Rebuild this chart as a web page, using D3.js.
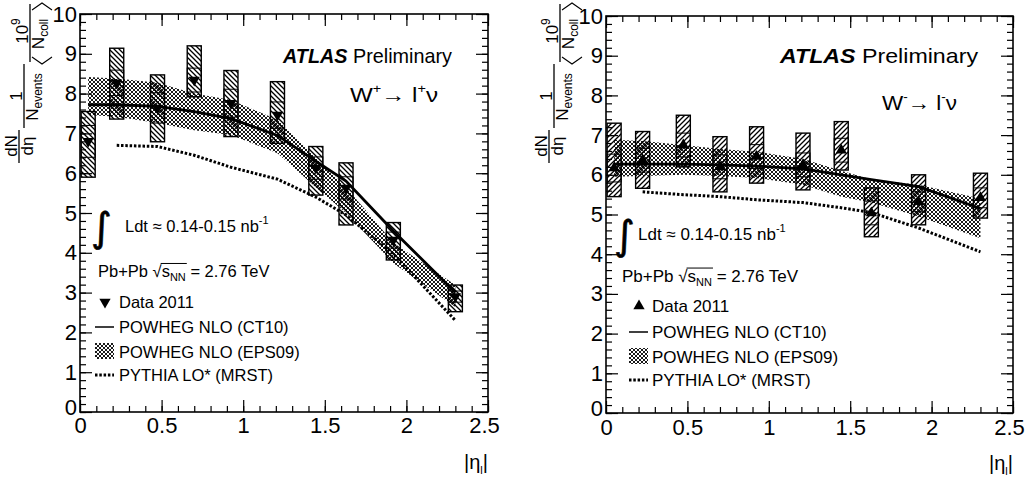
<!DOCTYPE html>
<html>
<head>
<meta charset="utf-8">
<script src="https://cdn.jsdelivr.net/npm/d3@7"></script>
<style>
body { margin: 0; background: #fff; }
svg { font-family: "Liberation Sans", Arial, sans-serif; }
</style>
</head>
<body>
<svg width="1027" height="484"></svg>
<script>
// lepton |eta| bin centres
var etaBins = [0.05, 0.225, 0.475, 0.7, 0.925, 1.21, 1.445, 1.63, 1.92, 2.3];
var pythiaEta = [0.225, 0.475, 0.7, 0.925, 1.21, 1.445, 1.63, 1.92, 2.3];

// W+ -> l+ nu
var wPlusData   = [6.80, 8.27, 7.64, 8.34, 7.76, 7.46, 6.13, 5.63, 4.32, 2.90];
var wPlusStat   = [0.40, 0.32, 0.38, 0.30, 0.35, 0.33, 0.28, 0.28, 0.20, 0.14];
var wPlusSysLo  = [5.90, 7.36, 6.79, 7.92, 6.92, 6.75, 5.45, 4.70, 3.82, 2.52];
var wPlusSysHi  = [7.55, 9.14, 8.47, 9.20, 8.58, 8.30, 6.67, 6.26, 4.76, 3.19];
var wPlusCT10   = [7.72, 7.72, 7.68, 7.55, 7.37, 6.95, 6.30, 5.80, 4.55, 3.00];
var wPlusEpsHi  = [8.42, 8.38, 8.27, 8.00, 7.84, 7.34, 6.40, 5.65, 4.25, 3.19];
var wPlusEpsLo  = [7.46, 7.42, 7.26, 7.08, 6.96, 6.50, 5.65, 5.00, 3.74, 2.64];
var wPlusPythia = [6.70, 6.67, 6.45, 6.15, 5.85, 5.40, 4.95, 3.97, 2.30];

// W- -> l- nu
var wMinusData   = [6.17, 6.37, 6.75, 6.20, 6.46, 6.25, 6.62, 5.04, 5.32, 5.42];
var wMinusStat   = [0.35, 0.30, 0.30, 0.30, 0.30, 0.30, 0.30, 0.30, 0.25, 0.25];
var wMinusSysLo  = [5.45, 5.66, 6.20, 5.57, 5.79, 5.62, 6.12, 4.44, 4.74, 4.91];
var wMinusSysHi  = [7.30, 7.09, 7.50, 6.96, 7.21, 7.05, 7.34, 5.67, 6.00, 6.04];
var wMinusCT10   = [6.27, 6.27, 6.27, 6.25, 6.22, 6.15, 6.00, 5.88, 5.70, 5.15];
var wMinusEpsHi  = [6.88, 6.85, 6.75, 6.65, 6.58, 6.40, 6.10, 5.88, 5.75, 5.40];
var wMinusEpsLo  = [5.95, 5.97, 6.00, 5.97, 5.92, 5.75, 5.45, 5.30, 4.95, 4.40];
var wMinusPythia = [5.57, 5.50, 5.45, 5.37, 5.30, 5.17, 5.05, 4.66, 4.06];

var xTickLabels = ["0", "0.5", "1", "1.5", "2", "2.5"];
var yTickLabels = ["0", "1", "2", "3", "4", "5", "6", "7", "8", "9", "10"];
var legendLabels = ["Data 2011", "POWHEG NLO (CT10)", "POWHEG NLO (EPS09)", "PYTHIA LO* (MRST)"];

var svg = d3.select("svg");
var defs = svg.append("defs");

function hatch(id, d) {
    defs.append("pattern")
        .attr("id", id)
        .attr("patternUnits", "userSpaceOnUse")
        .attr("width", 5).attr("height", 5)
        .append("path")
        .attr("d", d)
        .attr("stroke", "#000")
        .attr("stroke-width", 1.3);
}
hatch("hatchDown", "M-1,-1L6,6M-1,4L1,6M4,-1L6,1");
hatch("hatchUp", "M-1,6L6,-1M-1,1L1,-1M4,6L6,4");

var bandPat = defs.append("pattern")
    .attr("id", "band")
    .attr("patternUnits", "userSpaceOnUse")
    .attr("width", 4).attr("height", 4);
bandPat.append("rect").attr("width", 4).attr("height", 4).attr("fill", "#fff");
bandPat.append("path")
    .attr("d", "M0,0L4,4M4,0L0,4")
    .attr("stroke", "#000")
    .attr("stroke-width", 0.9);

var boxHalf = 0.043;

// y title: three stacked fractions, rotated
function drawYLabel(bx) {
    var g = svg.append("g")
        .attr("transform", "translate(" + bx + ",0) rotate(-90)")
        .attr("font-size", 17);
    function bar(a, b, off) {
        g.append("line").attr("x1", a).attr("x2", b)
            .attr("y1", off).attr("y2", off)
            .attr("stroke", "#000").attr("stroke-width", 1.3);
    }
    // dN/deta
    bar(-163, -130, 0);
    g.append("text").attr("x", -146).attr("y", -2.5).attr("text-anchor", "middle").text("dN");
    g.append("text").attr("x", -146).attr("y", 14).attr("text-anchor", "middle").text("dη");
    // 1/N_events
    bar(-128, -64, 5);
    g.append("text").attr("x", -96).attr("y", 2.5).attr("text-anchor", "middle").text("1");
    var t2 = g.append("text").attr("x", -97).attr("y", 19).attr("text-anchor", "middle");
    t2.append("tspan").text("N");
    t2.append("tspan").attr("font-size", 12).attr("dy", 4).text("events");
    // 10^9/<N_coll>
    bar(-62, -4, 11);
    var t3 = g.append("text").attr("x", -31).attr("y", 8.5).attr("text-anchor", "middle");
    t3.append("tspan").text("10");
    t3.append("tspan").attr("font-size", 12).attr("dy", -8).text("9");
    var t4 = g.append("text").attr("x", -34).attr("y", 25).attr("text-anchor", "middle");
    t4.append("tspan").text("N");
    t4.append("tspan").attr("font-size", 12).attr("dy", 4).text("coll");
    g.append("path").attr("d", "M-57,13L-64,23L-57,33")
        .attr("fill", "none").attr("stroke", "#000").attr("stroke-width", 1.1);
    g.append("path").attr("d", "M-10,13L-3,23L-10,33")
        .attr("fill", "none").attr("stroke", "#000").attr("stroke-width", 1.1);
}

function drawPanel(p) {
    var x = d3.scaleLinear().domain([0, 2.5]).range([p.left, p.right]);
    var y = d3.scaleLinear().domain([0, 10]).range([p.bottom, p.top]);
    var g = svg.append("g");

    // EPS09 band
    var area = d3.area()
        .x(function (d, i) { return x(etaBins[i]); })
        .y0(function (d, i) { return y(p.epsLo[i]); })
        .y1(function (d) { return y(d); });
    g.append("path").datum(p.epsHi)
        .attr("d", area)
        .attr("fill", "url(#band)");

    // systematic boxes
    g.selectAll(".sys").data(p.data).enter().append("rect")
        .attr("class", "sys")
        .attr("x", function (d, i) { return x(etaBins[i] - boxHalf); })
        .attr("y", function (d, i) { return y(p.sysHi[i]); })
        .attr("width", function (d, i) { return x(etaBins[i] + boxHalf) - x(etaBins[i] - boxHalf); })
        .attr("height", function (d, i) { return y(p.sysLo[i]) - y(p.sysHi[i]); })
        .attr("fill", "url(#" + p.hatch + ")")
        .attr("stroke", "#000")
        .attr("stroke-width", 1.4);

    // statistical boxes
    g.selectAll(".stat").data(p.data).enter().append("rect")
        .attr("class", "stat")
        .attr("x", function (d, i) { return x(etaBins[i] - boxHalf); })
        .attr("y", function (d, i) { return y(d + p.stat[i]); })
        .attr("width", function (d, i) { return x(etaBins[i] + boxHalf) - x(etaBins[i] - boxHalf); })
        .attr("height", function (d, i) { return y(d - p.stat[i]) - y(d + p.stat[i]); })
        .attr("fill", "none")
        .attr("stroke", "#000")
        .attr("stroke-width", 1);

    // CT10 line
    var line = d3.line()
        .x(function (d, i) { return x(etaBins[i]); })
        .y(function (d) { return y(d); });
    g.append("path").datum(p.ct10)
        .attr("d", line)
        .attr("fill", "none")
        .attr("stroke", "#000")
        .attr("stroke-width", 2.8);

    // PYTHIA line
    var pline = d3.line()
        .x(function (d, i) { return x(pythiaEta[i]); })
        .y(function (d) { return y(d); });
    g.append("path").datum(p.pythia)
        .attr("d", pline)
        .attr("fill", "none")
        .attr("stroke", "#000")
        .attr("stroke-width", 3)
        .attr("stroke-dasharray", "2.5,1.8");

    // data markers
    var sym = d3.symbol().type(d3.symbolTriangle).size(55);
    g.selectAll(".pt").data(p.data).enter().append("path")
        .attr("class", "pt")
        .attr("d", sym)
        .attr("transform", function (d, i) {
            return "translate(" + x(etaBins[i]) + "," + y(d) + ")" + (p.down ? " rotate(180)" : "");
        })
        .attr("fill", "#000");

    // axes
    var xMajor = xTickLabels.map(Number);
    var yMajor = yTickLabels.map(Number);
    var xMinor = d3.range(0, 2.501, 0.1);
    var yMinor = d3.range(0, 10.001, 0.2);

    function ax(gen, tr, vals, size, fmt, pad) {
        var a = g.append("g").attr("transform", tr)
            .call(gen.tickValues(vals).tickSizeInner(size).tickSizeOuter(0).tickPadding(pad || 0)
                .tickFormat(fmt || function () { return ""; }));
        a.select(".domain").remove();
        a.selectAll("line").attr("stroke-width", 1.2);
        a.attr("font-family", null).attr("font-size", 22);
        return a;
    }
    ax(d3.axisBottom(x), "translate(0," + p.bottom + ")", xMinor, -6);
    var xl = ax(d3.axisBottom(x), "translate(0," + p.bottom + ")", xMajor, -12, function (d, i) { return xTickLabels[i]; }, p.pad);
    xl.selectAll("text").filter(function (d) { return d === 2.5; }).attr("dx", -4);
    ax(d3.axisTop(x), "translate(0," + p.top + ")", xMinor, -6);
    ax(d3.axisTop(x), "translate(0," + p.top + ")", xMajor, -12);
    ax(d3.axisLeft(y), "translate(" + p.left + ",0)", yMinor, -6);
    var yl = ax(d3.axisLeft(y), "translate(" + p.left + ",0)", yMajor, -12, function (d, i) { return yTickLabels[i]; }, 3);
    yl.selectAll("text").filter(function (d) { return d === 0; }).attr("dy", "0.1em");
    ax(d3.axisRight(y), "translate(" + p.right + ",0)", yMinor, -6);
    ax(d3.axisRight(y), "translate(" + p.right + ",0)", yMajor, -12);

    g.append("rect")
        .attr("x", p.left).attr("y", p.top)
        .attr("width", p.right - p.left).attr("height", p.bottom - p.top)
        .attr("fill", "none").attr("stroke", "#000").attr("stroke-width", 1.6);

    // x title |eta_l|
    var xt = g.append("text").attr("x", p.right).attr("y", p.bottom + 57)
        .attr("text-anchor", "end").attr("font-size", 20);
    xt.append("tspan").text("|η");
    xt.append("tspan").attr("font-size", 11).attr("dy", 5).text("l");
    xt.append("tspan").attr("dy", -5).text("|");

    // ATLAS Preliminary
    var at = g.append("text").attr("x", p.atlasX).attr("y", 63)
        .attr("font-size", 21)
        .attr("textLength", p.atlasW).attr("lengthAdjust", "spacingAndGlyphs");
    at.append("tspan").attr("font-weight", "bold").attr("font-style", "italic").text("ATLAS");
    at.append("tspan").text(" Preliminary");

    // process label
    var wl = g.append("text").attr("x", p.wX).attr("y", p.wY).attr("font-size", 20)
        .attr("textLength", p.wW).attr("lengthAdjust", "spacingAndGlyphs");
    wl.append("tspan").text("W");
    wl.append("tspan").attr("font-size", 12).attr("dy", -9).text(p.sign);
    wl.append("tspan").attr("dy", 9).text("→ l");
    wl.append("tspan").attr("font-size", 12).attr("dy", -9).text(p.sign);
    wl.append("tspan").attr("dy", 9).text("ν");

    // luminosity
    var fs = p.legFont;
    g.append("text").attr("x", p.intX).attr("y", p.ldtY + 9)
        .attr("font-size", 40).attr("font-family", "DejaVu Sans")
        .attr("stroke", "#000").attr("stroke-width", 0.6).text("∫");
    var lt = g.append("text").attr("x", p.ldtX).attr("y", p.ldtY).attr("font-size", fs);
    lt.append("tspan").text("Ldt ≈ 0.14-0.15 nb");
    lt.append("tspan").attr("font-size", 11).attr("dy", -8).text("-1");

    // collision system
    var cs = g.append("text").attr("x", p.pbX).attr("y", p.pbY).attr("font-size", fs);
    cs.append("tspan").text("Pb+Pb ");
    cs.append("tspan").text("√");
    cs.append("tspan").text("s");
    cs.append("tspan").attr("font-size", 11).attr("dy", 4).text("NN");
    cs.append("tspan").attr("dy", -4).text(" = 2.76 TeV");
    var node = cs.node();
    var s0 = node.getStartPositionOfChar(7).x, s1 = node.getEndPositionOfChar(9).x;
    g.append("line").attr("x1", s0 - 1).attr("x2", s1 + 1)
        .attr("y1", p.pbY - fs * 0.82).attr("y2", p.pbY - fs * 0.82)
        .attr("stroke", "#000").attr("stroke-width", 1);

    // legend
    var lx0 = p.legX, lx1 = p.legX + 19;
    g.append("path").attr("d", sym)
        .attr("transform", "translate(" + (lx0 + 10) + "," + (p.legY[0] - 6) + ")" + (p.down ? " rotate(180)" : ""))
        .attr("fill", "#000");
    g.append("line").attr("x1", lx0).attr("x2", lx1)
        .attr("y1", p.legY[1] - 6).attr("y2", p.legY[1] - 6)
        .attr("stroke", "#000").attr("stroke-width", 1.5);
    g.append("rect").attr("x", lx0).attr("y", p.legY[2] - 15)
        .attr("width", lx1 - lx0).attr("height", 16)
        .attr("fill", "url(#band)");
    g.append("line").attr("x1", lx0).attr("x2", lx1)
        .attr("y1", p.legY[3] - 6).attr("y2", p.legY[3] - 6)
        .attr("stroke", "#000").attr("stroke-width", 3)
        .attr("stroke-dasharray", "2.5,1.8");
    legendLabels.forEach(function (t, i) {
        g.append("text").attr("x", p.legTextX).attr("y", p.legY[i])
            .attr("font-size", fs).text(t);
    });
}

drawYLabel(19);
drawYLabel(549);

drawPanel({
    left: 80, right: 488, top: 14, bottom: 412, pad: 5,
    data: wPlusData, stat: wPlusStat, sysLo: wPlusSysLo, sysHi: wPlusSysHi,
    ct10: wPlusCT10, epsHi: wPlusEpsHi, epsLo: wPlusEpsLo, pythia: wPlusPythia,
    hatch: "hatchDown", down: true, sign: "+",
    atlasX: 283, atlasW: 169, wX: 350, wY: 102, wW: 88,
    legFont: 16.5, intX: 91, ldtX: 125, ldtY: 232, pbX: 98, pbY: 277,
    legX: 95, legTextX: 119, legY: [308, 333, 358, 381]
});

drawPanel({
    left: 606, right: 1013, top: 16, bottom: 413, pad: 6,
    data: wMinusData, stat: wMinusStat, sysLo: wMinusSysLo, sysHi: wMinusSysHi,
    ct10: wMinusCT10, epsHi: wMinusEpsHi, epsLo: wMinusEpsLo, pythia: wMinusPythia,
    hatch: "hatchUp", down: false, sign: "-",
    atlasX: 780, atlasW: 198, wX: 882, wY: 110, wW: 75,
    legFont: 17, intX: 614, ldtX: 638, ldtY: 240, pbX: 622, pbY: 282,
    legX: 629, legTextX: 652, legY: [312, 338, 363, 386]
});
</script>
</body>
</html>
